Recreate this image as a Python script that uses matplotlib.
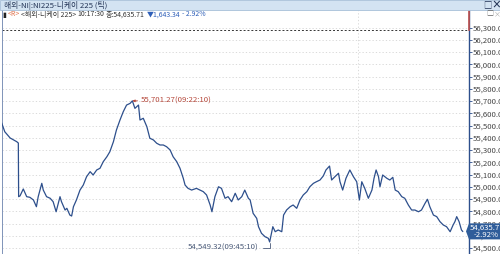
import matplotlib
matplotlib.use("Agg")
import matplotlib.pyplot as plt
from matplotlib.patches import Rectangle, Polygon

plt.rcParams['font.family'] = ['Liberation Sans Narrow', 'Noto Sans CJK KR', 'DejaVu Sans']

# minutes after 09:00 and price (해외-니케이 225, tick)
minutes = [0.3, 0.8, 1.7, 2.8, 3.07, 3.12, 3.35, 3.9, 4.47, 5.0, 5.6, 6.1, 6.4, 7.0, 7.25, 7.8,
           8.4, 8.9, 9.4, 10.05, 10.3, 10.9, 11.2, 11.7, 12.0, 12.3, 12.8, 13.4, 13.95, 14.5,
           15.1, 15.6, 16.2, 16.75, 17.3, 17.9, 18.4, 19.0, 19.5, 20.1, 20.65, 21.2, 21.8,
           22.17, 22.6, 23.2, 23.45, 24.0, 24.6, 25.1, 25.7, 26.25, 26.8, 27.35, 27.9, 28.5,
           29.0, 29.6, 30.15, 30.7, 31.0, 31.5, 32.1, 32.9, 33.5, 34.05, 34.6, 35.2, 35.5,
           36.0, 36.6, 37.1, 37.7, 38.2, 38.8, 39.4, 39.9, 40.5, 41.0, 41.6, 41.9, 42.4,
           43.0, 43.3, 43.8, 44.4, 44.95, 45.17, 45.7, 46.1, 46.6, 47.2, 47.5, 48.0, 48.6,
           49.1, 49.7, 50.25, 50.8, 51.4, 51.9, 52.5, 53.0, 53.6, 54.15, 54.6, 55.2, 55.55,
           56.1, 56.7, 56.95, 57.4, 57.95, 58.6, 59.2, 59.75, 60.2, 60.6, 61.1, 61.7, 62.3,
           62.65, 63.0, 63.4, 63.65, 64.1, 64.8, 65.3, 65.8, 66.2, 66.7, 67.3, 67.8, 68.4,
           68.95, 69.5, 70.1, 70.6, 71.2, 71.6, 72.0, 72.6, 73.15, 73.7, 74.25, 74.8, 75.4,
           75.9, 76.2, 76.5, 76.9, 77.3, 77.5]
prices = [55518, 55449, 55398, 55368, 55357, 54919, 54925, 54982, 54919, 54914, 54892, 54837,
          54919, 55028, 54973, 54919, 54906, 54878, 54796, 54919, 54878, 54810, 54824, 54769,
          54761, 54837, 54892, 54973, 55014, 55082, 55123, 55096, 55137, 55151, 55205, 55245,
          55286, 55368, 55463, 55545, 55613, 55667, 55681, 55701.27, 55640, 55667, 55545,
          55559, 55490, 55396, 55382, 55355, 55341, 55341, 55327, 55300, 55245, 55205, 55151,
          55069, 55014, 54987, 54973, 54987, 54973, 54960, 54933, 54851, 54796, 54919, 55000,
          54987, 54906, 54919, 54878, 54947, 54892, 54919, 54973, 54906, 54892, 54783, 54742,
          54674, 54620, 54592, 54579, 54549.32, 54674, 54633, 54647, 54633, 54769, 54810,
          54837, 54851, 54824, 54892, 54933, 54960, 55000, 55028, 55041, 55055, 55088, 55137,
          55169, 55055, 55082, 55110, 55041, 54973, 55069, 55137, 55082, 55041, 54892, 55041,
          54987, 54906, 54973, 55069, 55137, 55082, 55000, 55096, 55069, 55055, 55077, 54973,
          54960, 54919, 54906, 54851, 54810, 54810, 54796, 54810, 54865, 54898, 54837, 54769,
          54756, 54715, 54688, 54674, 54633, 54688, 54715, 54756, 54715, 54647, 54635.71]
prev_close = 56279.05
y_ticks = list(range(54500, 56301, 100))

title = "해외-NI|:NI225-니케이 225 (틱)"
info = [("▮", "#222222"), ("<R>", "#e0704a"), ("<해외-니케이 225>", "#333333"),
        ("10:17:30", "#333333"), ("종:54,635.71", "#333333"),
        ("▼1,643.34", "#2f5fb8"), ("- 2.92%", "#2f5fb8")]
line_color = "#2d4f8c"
fs = 5.6

W, H = 500, 254
fig = plt.figure(figsize=(W / 100, H / 100), dpi=100)
fig.patch.set_facecolor("white")


def fx(px):
    return px / W


def fy(py):
    return 1 - py / H


ax = fig.add_axes([fx(2), 0, fx(469) - fx(2), fy(10)])
ax.set_xlim(0.335, 78.56)
ax.set_ylim(54451, 56443)

ax.plot(minutes, prices, color=line_color, lw=0.9, zorder=3)
ax.axhline(prev_close, color="#333333", lw=0.7, ls=(0, (2, 2)), zorder=2)

# grid
ax.set_yticks(y_ticks)
ax.set_yticklabels([f"{v:,.2f}" for v in y_ticks])
ax.yaxis.tick_right()
ax.set_xticks([60])
ax.grid(True, color="#d4d4d4", lw=0.6, ls=(0, (1.5, 2.5)))
ax.tick_params(axis="x", length=0, labelbottom=False)
ax.tick_params(axis="y", length=2, width=0.6, color=line_color, labelsize=fs,
               labelcolor="#444444", pad=1)
for s in ["top", "bottom"]:
    ax.spines[s].set_visible(False)
ax.spines["left"].set_color("#7f93b8")
ax.spines["left"].set_linewidth(0.7)
ax.spines["right"].set_color(line_color)
ax.spines["right"].set_linewidth(1.0)
ax.plot([78.56, 78.56], [prev_close, 56443], color="#c0504d", lw=1.2, clip_on=False, zorder=5)

# peak / low annotations
i_hi = prices.index(max(prices))
i_lo = prices.index(min(prices))
ax.annotate(f"{prices[i_hi]:,.2f}(09:22:10)", xy=(minutes[i_hi], prices[i_hi]),
            xytext=(8, 0), textcoords="offset pixels", ha="left", va="center",
            fontsize=fs, color="#b5473a",
            arrowprops=dict(arrowstyle="-|>,head_length=0.25,head_width=0.12",
                            color="#b5473a", lw=0.6, shrinkA=0, shrinkB=0, relpos=(0, 0.5)))
ax.annotate(f"{prices[i_lo]:,.2f}(09:45:10)", xy=(minutes[i_lo], prices[i_lo]),
            xytext=(-11, -6), textcoords="offset pixels", ha="right", va="center",
            fontsize=fs, color="#4a5a78",
            arrowprops=dict(arrowstyle="-", color="#4a5a78", lw=0.6, shrinkA=1, shrinkB=1,
                            relpos=(1, 0.5),
                            connectionstyle="angle,angleA=0,angleB=90,rad=0"))

# current price tag on the right
fig.canvas.draw()
yl = ax.transData.transform((0, prices[-1]))[1]
tag = Polygon([(466, yl), (469, yl + 8), (500, yl + 8), (500, yl - 8), (469, yl - 8)],
              closed=True, transform=None, facecolor="#2f5d9a", edgecolor="none", zorder=10)
fig.patches.append(tag)
fig.text(fx(470), (yl + 3.5) / H, f"{prices[-1]:,.2f}", fontsize=fs, color="white",
         ha="left", va="center", zorder=11)
fig.text(fx(499), (yl - 3.5) / H, "-2.92%", fontsize=fs, color="white",
         ha="right", va="center", zorder=11)

# title bar
fig.patches.append(Rectangle((0, fy(10)), 1, 10 / H, transform=fig.transFigure,
                             facecolor="#d3e3f2", edgecolor="#a7bfd8", lw=0.6, zorder=0))
fig.text(fx(4), fy(5), title, fontsize=fs, color="#223355", ha="left", va="center")
fig.text(fx(487), fy(5), "□", fontsize=6, color="#223355", ha="center", va="center",
         family=["Noto Sans CJK KR", "DejaVu Sans"])
fig.text(fx(496), fy(5), "×", fontsize=7, color="#223355", ha="center", va="center",
         fontweight="bold")
fig.text(fx(490), fy(14), "□", fontsize=5, color="#666666", ha="center", va="center",
         family=["Noto Sans CJK KR", "DejaVu Sans"])
fig.text(fx(497), fy(14), "×", fontsize=5, color="#aaaaaa", ha="center", va="center")

# info line, pieces placed one after another
renderer = fig.canvas.get_renderer()
px = 2
for s, c in info:
    t = fig.text(fx(px), fy(14.5), s, fontsize=5.0, color=c, ha="left", va="center")
    px = t.get_window_extent(renderer).x1 + 1.5

fig.savefig("out.png", dpi=100, facecolor="white")
